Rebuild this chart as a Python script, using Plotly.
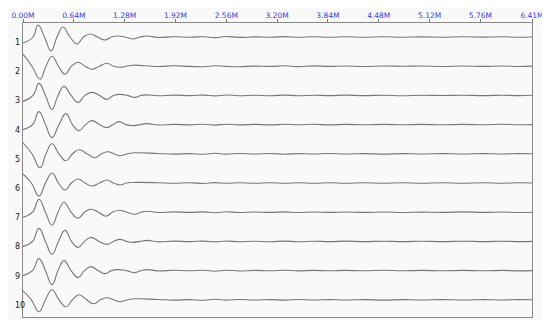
import plotly.graph_objects as go

TRACE_LABELS = ["1", "2", "3", "4", "5", "6", "7", "8", "9", "10"]
TICK_VALS = [0.00, 0.64, 1.28, 1.92, 2.56, 3.20, 3.84, 4.48, 5.12, 5.76, 6.41]
TICK_TEXT = ["0.00M", "0.64M", "1.28M", "1.92M", "2.56M", "3.20M", "3.84M",
             "4.48M", "5.12M", "5.76M", "6.41M"]

# main ring-down: extrema and baseline crossings (time in M, amplitude)
T1 = [0.000, 0.126, 0.189, 0.271, 0.353, 0.428, 0.504, 0.592, 0.680, 0.762,
      0.844, 0.938, 1.033, 1.115, 1.196, 1.290, 1.385, 1.473, 1.562]
A1 = [-6, 0, 12, 0, -14, 0, 10, 0, -7, 0, 3, 0, -3, 0, 1, 0, -2, 0, 1]
T2 = [0.000, 0.113, 0.214, 0.290, 0.365, 0.447, 0.529, 0.611, 0.693, 0.781,
      0.869, 0.963, 1.058, 1.140, 1.222, 1.303, 1.385]
A2 = [12, 0, -13, 0, 10, 0, -8, 0, 4, 0, -3, 0, 3, 0, -1, 0, 1]
T3 = [0.000, 0.126, 0.201, 0.283, 0.365, 0.441, 0.516, 0.605, 0.693, 0.781,
      0.869, 0.963, 1.058, 1.140, 1.222, 1.316, 1.410, 1.486, 1.562]
A3 = [-6, 0, 12, 0, -14, 0, 9, 0, -7, 0, 3, 0, -4, 0, 1, 0, -2, 0, 0.5]
T4 = [0.000, 0.120, 0.201, 0.283, 0.365, 0.453, 0.541, 0.623, 0.705, 0.787,
      0.869, 0.963, 1.058, 1.133, 1.209, 1.297, 1.385, 1.473, 1.562]
A4 = [-5, 0, 13, 0, -13, 0, 11, 0, -6, 0, 4, 0, -3, 0, 3, 0, -1, 0, 1]
T5 = [0.000, 0.113, 0.214, 0.290, 0.365, 0.453, 0.541, 0.623, 0.705, 0.806,
      0.907, 0.988, 1.070, 1.146, 1.222, 1.316, 1.410]
A5 = [11, 0, -14, 0, 10, 0, -7, 0, 4, 0, -4, 0, 2, 0, -2, 0, 1]
T6 = [0.000, 0.105, 0.201, 0.283, 0.365, 0.447, 0.529, 0.611, 0.693, 0.781,
      0.869, 0.963, 1.058, 1.140, 1.222, 1.303, 1.385]
A6 = [9, 0, -13, 0, 10, 0, -7, 0, 4, 0, -3, 0, 3, 0, -2, 0, 0.5]
T7 = [0.000, 0.120, 0.201, 0.283, 0.365, 0.441, 0.516, 0.605, 0.693, 0.775,
      0.856, 0.951, 1.045, 1.127, 1.209, 1.310, 1.410, 1.486, 1.562]
A7 = [-5, 0, 13, 0, -13, 0, 10, 0, -6, 0, 3, 0, -4, 0, 2, 0, -2, 0, 1]
T8 = [0.000, 0.120, 0.201, 0.283, 0.365, 0.447, 0.529, 0.611, 0.693, 0.775,
      0.856, 0.957, 1.058, 1.140, 1.222, 1.303, 1.385, 1.473, 1.562]
A8 = [-5, 0, 13, 0, -13, 0, 11, 0, -6, 0, 4, 0, -3, 0, 2, 0, -1, 0, 1]
T9 = [0.000, 0.120, 0.201, 0.283, 0.365, 0.441, 0.516, 0.605, 0.693, 0.775,
      0.856, 0.945, 1.033, 1.115, 1.196, 1.303, 1.410, 1.486, 1.562]
A9 = [-5, 0, 12, 0, -14, 0, 10, 0, -7, 0, 4, 0, -3, 0, 1, 0, -2, 0, 1]
T10 = [0.000, 0.105, 0.201, 0.283, 0.365, 0.453, 0.541, 0.623, 0.705, 0.800,
       0.894, 0.976, 1.058, 1.140, 1.222, 1.316, 1.410]
A10 = [9, 0, -12, 0, 10, 0, -7, 0, 5, 0, -4, 0, 2, 0, -2, 0, 1]

# small tail wiggles
TAIL_T = [1.70, 1.90, 2.10, 2.28, 2.42, 2.56, 2.72, 2.92, 3.12, 3.30, 3.46, 3.66,
          3.86, 4.06, 4.30, 4.54, 4.78, 5.02, 5.28, 5.54, 5.80, 6.04, 6.24, 6.41]
TAIL1 = [-0.4, 0.3, -0.2, 0.3, -0.6, 0.5, -0.4, 0.1, -0.2, 0.4, -0.3, 0.2,
         -0.3, 0.2, -0.2, 0.3, -0.2, 0.1, -0.2, 0.2, -0.1, 0.2, -0.3, 0.0]
TAIL2 = [-0.3, 0.4, -0.2, -0.5, 0.4, -0.2, -0.5, 0.1, -0.2, 0.4, -0.4, 0.3,
         -0.2, 0.2, -0.3, 0.2, -0.1, 0.2, -0.3, 0.2, -0.2, 0.2, -0.3, 0.1]
TAIL3 = [-0.3, 0.3, -0.2, 0.3, -0.5, 0.4, -0.3, 0.2, -0.3, 0.3, -0.3, 0.2,
         -0.2, 0.3, -0.2, 0.2, -0.3, 0.2, -0.1, 0.2, -0.2, 0.2, -0.2, 0.1]
TAIL4 = [-0.4, 0.2, -0.3, 0.4, -0.5, 0.4, -0.3, 0.2, -0.3, 0.3, -0.2, 0.3,
         -0.3, 0.2, -0.2, 0.2, -0.2, 0.2, -0.2, 0.2, -0.2, 0.3, -0.2, 0.0]
TAIL5 = [0.3, -0.3, 0.2, -0.4, 0.5, -0.3, 0.3, -0.2, 0.3, -0.4, 0.2, -0.2,
         0.3, -0.2, 0.2, -0.3, 0.2, -0.2, 0.2, -0.2, 0.2, -0.2, 0.2, 0.0]
TAIL6 = [0.3, -0.3, 0.3, -0.5, 0.4, -0.3, 0.3, -0.2, 0.2, -0.3, 0.3, -0.2,
         0.2, -0.2, 0.2, -0.2, 0.2, -0.2, 0.2, -0.2, 0.2, -0.2, 0.2, 0.0]
TAIL7 = [-0.3, 0.3, -0.2, 0.3, -0.5, 0.4, -0.3, 0.2, -0.2, 0.3, -0.3, 0.2,
         -0.2, 0.2, -0.2, 0.2, -0.3, 0.1, -0.2, 0.3, -0.2, 0.2, -0.3, 0.0]
TAIL8 = [-0.4, 0.3, -0.2, 0.3, -0.5, 0.4, -0.4, 0.2, -0.3, 0.3, -0.3, 0.2,
         -0.2, 0.3, -0.2, 0.2, -0.2, 0.2, -0.2, 0.2, -0.2, 0.2, -0.2, 0.0]
TAIL9 = [-0.3, 0.3, -0.2, 0.3, -0.6, 0.4, -0.4, 0.2, -0.2, 0.4, -0.3, 0.2,
         -0.2, 0.2, -0.2, 0.3, -0.2, 0.2, -0.2, 0.2, -0.2, 0.2, -0.3, 0.0]
TAIL10 = [0.3, -0.3, 0.2, -0.4, 0.5, -0.3, 0.3, -0.2, 0.2, -0.3, 0.3, -0.2,
          0.2, -0.2, 0.2, -0.3, 0.2, -0.2, 0.2, -0.2, 0.2, -0.2, 0.2, 0.0]

MAIN_T = [T1, T2, T3, T4, T5, T6, T7, T8, T9, T10]
MAIN_A = [A1, A2, A3, A4, A5, A6, A7, A8, A9, A10]
TAILS = [TAIL1, TAIL2, TAIL3, TAIL4, TAIL5, TAIL6, TAIL7, TAIL8, TAIL9, TAIL10]

ROW_GAP = 29.2
LINE_COLOR = "#777777"
BG = "#f9f9f9"
PLOT_W = 509

fig = go.Figure()
annotations = []
for i in range(10):
    base = -i * ROW_GAP
    xs = MAIN_T[i] + TAIL_T
    ys = [base + a for a in MAIN_A[i] + TAILS[i]]
    fig.add_trace(go.Scatter(
        x=xs, y=ys, mode="lines",
        line=dict(color=LINE_COLOR, width=1.1, shape="spline", smoothing=1.3),
        hoverinfo="skip", showlegend=False))
    annotations.append(dict(
        x=-10 / PLOT_W, xref="paper", y=base - 5.5, yref="y",
        text=TRACE_LABELS[i], showarrow=False, xanchor="left", yanchor="middle",
        font=dict(family="DejaVu Sans", size=8, color="#222222")))

fig.update_layout(
    width=537, height=312,
    margin=dict(l=15, r=13, t=15, b=3, autoexpand=False),
    paper_bgcolor=BG, plot_bgcolor=BG,
    annotations=annotations,
    xaxis=dict(
        side="top", range=[0, 6.41], tickvals=TICK_VALS, ticktext=TICK_TEXT,
        ticks="outside", ticklen=3, tickcolor="#777777", tickwidth=1,
        showline=True, linecolor="#888888", linewidth=1, mirror=True,
        showgrid=False, zeroline=False, automargin=False,
        ticklabeloverflow="allow", ticklabelstandoff=-2,
        tickfont=dict(family="DejaVu Sans", size=7.5, color="#3a3ae0"),
    ),
    yaxis=dict(
        range=[-280, 14], showticklabels=False, ticks="",
        showline=True, linecolor="#888888", linewidth=1, mirror=True,
        showgrid=False, zeroline=False, automargin=False,
    ),
)

fig.write_html("out.html")
